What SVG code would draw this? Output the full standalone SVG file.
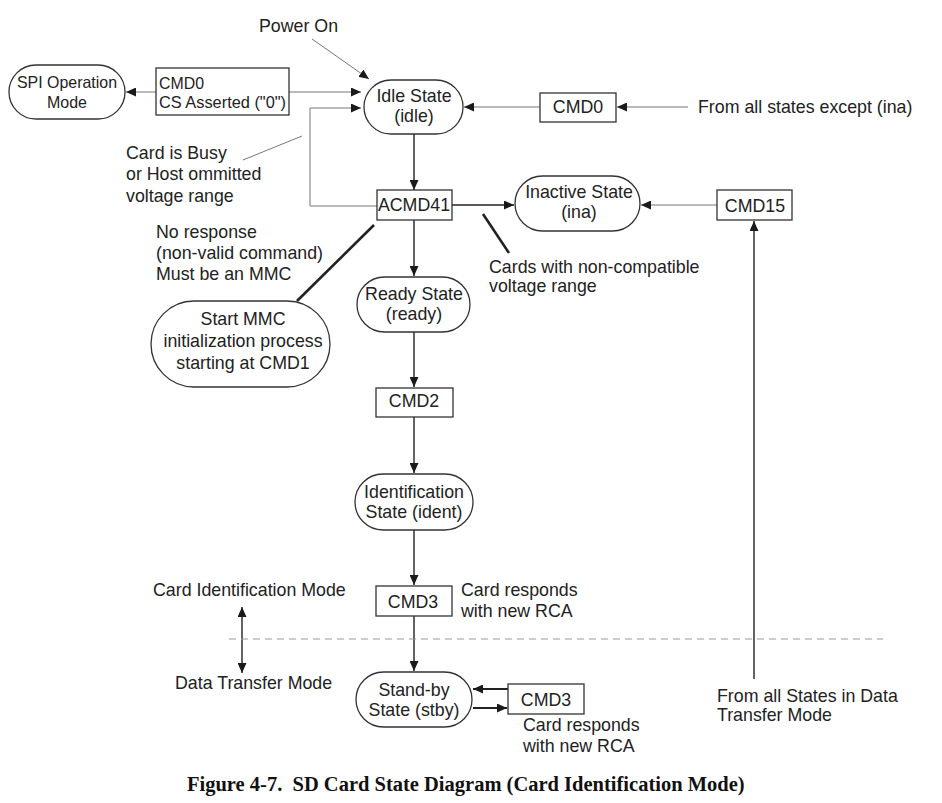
<svg xmlns="http://www.w3.org/2000/svg" width="942" height="803" viewBox="0 0 942 803">
<defs>
<marker id="ah" markerUnits="userSpaceOnUse" markerWidth="11" markerHeight="9" refX="10" refY="4.5" orient="auto">
<path d="M0,0 L10,4.5 L0,9 z" fill="#1a1a1a"/>
</marker>
<marker id="ahs" markerUnits="userSpaceOnUse" markerWidth="11" markerHeight="9" refX="0" refY="4.5" orient="auto">
<path d="M10,0 L0,4.5 L10,9 z" fill="#1a1a1a"/>
</marker>
</defs>
<style>
text{font-family:"Liberation Sans",Arial,sans-serif;font-size:17.8px;fill:#222}
.c{text-anchor:middle}
.s{font-size:16.5px}
.node{fill:#fff;stroke:#333;stroke-width:1.3}
.thin{stroke:#777;stroke-width:1;fill:none}
.blk{stroke:#222;stroke-width:1.4;fill:none}
.lead{stroke:#222;stroke-width:2.6;fill:none}
.dash{stroke:#999;stroke-width:1;stroke-dasharray:7 5;fill:none}
.cap{font-family:"Liberation Serif","Times New Roman",serif;font-weight:bold;font-size:20.5px;fill:#111;white-space:pre}
</style>
<rect width="942" height="803" fill="#fff"/>
<g id="connectors">
<line class="thin" x1="312" y1="39" x2="369" y2="79" marker-end="url(#ah)"/>
<line class="thin" x1="156" y1="92" x2="126" y2="92" marker-end="url(#ah)"/>
<line class="thin" x1="289" y1="92" x2="361" y2="92" marker-end="url(#ah)"/>
<polyline class="thin" points="377,206 310,206 310,108 361,108" marker-end="url(#ah)"/>
<line class="thin" x1="302" y1="136" x2="243" y2="160"/>
<line class="thin" x1="540" y1="107" x2="464" y2="107" marker-end="url(#ah)"/>
<line class="thin" x1="688" y1="107" x2="617" y2="107" marker-end="url(#ah)"/>
<line class="blk" x1="414" y1="134" x2="414" y2="190" marker-end="url(#ah)"/>
<line class="blk" x1="452" y1="205" x2="514" y2="205" marker-end="url(#ah)"/>
<line class="thin" x1="717" y1="205" x2="641" y2="205" marker-end="url(#ah)"/>
<line class="blk" x1="754" y1="679" x2="754" y2="221" marker-end="url(#ah)"/>
<line class="lead" x1="483" y1="214" x2="509" y2="253"/>
<line class="lead" x1="374" y1="225" x2="297" y2="301"/>
<line class="blk" x1="414" y1="220" x2="414" y2="276" marker-end="url(#ah)"/>
<line class="blk" x1="414" y1="332" x2="414" y2="387" marker-end="url(#ah)"/>
<line class="blk" x1="414" y1="417" x2="414" y2="473" marker-end="url(#ah)"/>
<line class="blk" x1="414" y1="530" x2="414" y2="585" marker-end="url(#ah)"/>
<line class="blk" x1="414" y1="616" x2="414" y2="671" marker-end="url(#ah)"/>
<line class="blk" x1="242" y1="607" x2="242" y2="673" marker-start="url(#ahs)" marker-end="url(#ah)"/>
<line class="blk" style="stroke-width:2" x1="508" y1="689" x2="473" y2="689" marker-end="url(#ah)"/>
<line class="blk" style="stroke-width:2" x1="473" y1="708" x2="507" y2="708" marker-end="url(#ah)"/>
<line class="dash" x1="229" y1="639" x2="883" y2="639"/>
</g>
<g id="spi"><rect class="node" x="9" y="65" width="116" height="54" rx="27"/><text class="c s" x="67" y="88" textLength="100" lengthAdjust="spacingAndGlyphs">SPI Operation</text><text class="c s" x="67" y="107.5" textLength="40" lengthAdjust="spacingAndGlyphs">Mode</text></g>
<g id="cmd0cs"><rect class="node" x="156" y="68" width="133" height="47"/><text class="s" x="159" y="88.5" textLength="45" lengthAdjust="spacingAndGlyphs">CMD0</text><text class="s" x="159" y="108" textLength="127" lengthAdjust="spacingAndGlyphs">CS Asserted ("0")</text></g>
<g id="idle"><rect class="node" x="364" y="80" width="99" height="54" rx="27"/><text class="c" x="414" y="102">Idle State</text><text class="c" x="414" y="122">(idle)</text></g>
<g id="cmd0"><rect class="node" x="540" y="93" width="76" height="29"/><text class="c" x="578" y="113">CMD0</text></g>
<g id="acmd41"><rect class="node" x="377" y="190" width="75" height="30"/><text class="c" x="414" y="211">ACMD41</text></g>
<g id="inactive"><rect class="node" x="515" y="176" width="125" height="55" rx="27.5"/><text class="c" x="579" y="198">Inactive State</text><text class="c" x="579" y="218">(ina)</text></g>
<g id="cmd15"><rect class="node" x="717" y="190" width="75" height="30"/><text class="c" x="755" y="212">CMD15</text></g>
<g id="mmc"><rect class="node" x="151" y="301" width="179" height="86" rx="43"/><text class="c" x="243" y="325">Start MMC</text><text class="c" x="243" y="347">initialization process</text><text class="c" x="243" y="369">starting at CMD1</text></g>
<g id="ready"><rect class="node" x="357" y="277" width="113" height="55" rx="27.5"/><text class="c" x="414" y="300">Ready State</text><text class="c" x="414" y="320">(ready)</text></g>
<g id="cmd2"><rect class="node" x="376" y="388" width="77" height="29"/><text class="c" x="414" y="407">CMD2</text></g>
<g id="ident"><rect class="node" x="355" y="474" width="118" height="56" rx="28"/><text class="c" x="414" y="498">Identification</text><text class="c" x="414" y="518">State (ident)</text></g>
<g id="cmd3"><rect class="node" x="376" y="586" width="76" height="30"/><text class="c" x="413" y="608">CMD3</text></g>
<g id="stby"><rect class="node" x="356" y="672" width="116" height="55" rx="27.5"/><text class="c" x="414" y="696">Stand-by</text><text class="c" x="414" y="716">State (stby)</text></g>
<g id="cmd3b"><rect class="node" x="508" y="684" width="76" height="30"/><text class="c" x="546" y="706">CMD3</text></g>
<g id="labels">
<text x="259" y="32">Power On</text>
<text x="126" y="159">Card is Busy</text>
<text x="126" y="180">or Host ommitted</text>
<text x="126" y="202">voltage range</text>
<text x="698" y="113">From all states except (ina)</text>
<text x="489" y="273">Cards with non-compatible</text>
<text x="489" y="292">voltage range</text>
<text x="156" y="238">No response</text>
<text x="156" y="259">(non-valid command)</text>
<text x="156" y="280">Must be an MMC</text>
<text x="461" y="596">Card responds</text>
<text x="461" y="617">with new RCA</text>
<text x="153" y="596">Card Identification Mode</text>
<text x="175" y="689">Data Transfer Mode</text>
<text x="523" y="731">Card responds</text>
<text x="523" y="752">with new RCA</text>
<text x="717" y="702">From all States in Data</text>
<text x="717" y="721">Transfer Mode</text>
<text class="cap" x="187" y="791">Figure 4-7.  SD Card State Diagram (Card Identification Mode)</text>
</g>
</svg>
